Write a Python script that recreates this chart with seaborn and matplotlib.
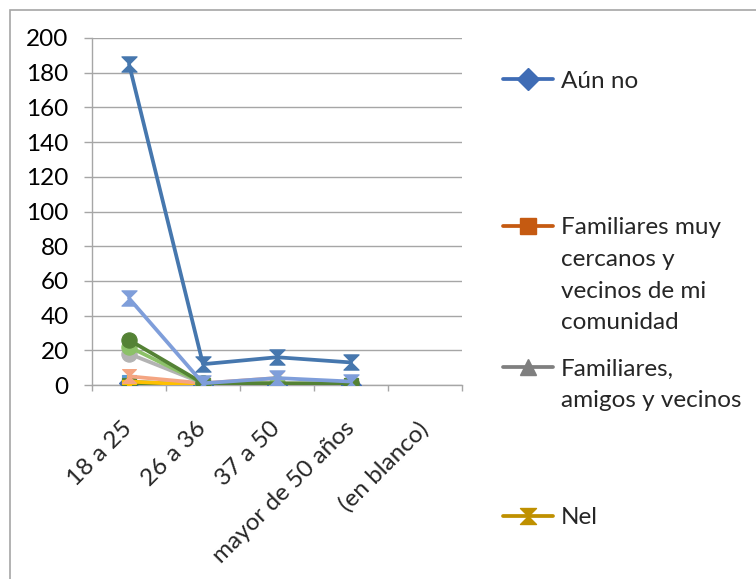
import numpy as np
import pandas as pd
import matplotlib
matplotlib.use("Agg")
import matplotlib.pyplot as plt
from matplotlib.path import Path
from matplotlib.patches import Rectangle
from matplotlib.lines import Line2D
import seaborn as sns

# Age groups on the x axis
categories = ["18 a 25", "26 a 36", "37 a 50", "mayor de 50 años", "(en blanco)"]

# Series shown in the legend
aun_no = [1, 0, 0, 0, np.nan]
familiares_muy_cercanos = [0, 0, 0, 0, np.nan]
familiares_amigos = [0, 0, 0, 0, np.nan]
nel = [0, 0, 0, 0, np.nan]

# Further series of the pivot table
serie_5 = [185, 12, 16, 13, np.nan]
serie_6 = [26, 1, np.nan, 1, np.nan]
serie_7 = [2, 0, 0, 0, np.nan]
serie_8 = [0, 0, 0, 0, np.nan]
serie_9 = [18, 1, 0, np.nan, np.nan]
serie_10 = [5, 1, 4, np.nan, np.nan]
serie_11 = [50, 1, 4, 2, np.nan]
serie_12 = [22, 1, 1, np.nan, np.nan]
serie_13 = [2, 0, 0, np.nan, np.nan]

legend_labels = [["Aún no"],
                 ["Familiares muy", "cercanos y", "vecinos de mi", "comunidad"],
                 ["Familiares,", "amigos y vecinos"],
                 ["Nel"]]

# hourglass-like marker used for the "star" series
hourglass = Path([(-1, 1), (1, 1), (-1, -1), (1, -1), (-1, 1)],
                 [Path.MOVETO, Path.LINETO, Path.LINETO, Path.LINETO, Path.CLOSEPOLY])

series = [
    (aun_no, "#3F6CB5", "D", 10),
    (familiares_muy_cercanos, "#C55A11", "s", 10),
    (familiares_amigos, "#7F7F7F", "^", 10),
    (nel, "#BF9000", hourglass, 10),
    (serie_7, "#5B9BD5", "s", 10),
    (serie_8, "#548235", "s", 10),
    (serie_13, "#FFC000", "P", 10),
    (serie_10, "#F4A582", hourglass, 10),
    (serie_9, "#B3B3B3", "o", 11),
    (serie_12, "#8CC168", "o", 11),
    (serie_6, "#548235", "o", 11),
    (serie_11, "#7F9EDA", hourglass, 11),
    (serie_5, "#4677AE", hourglass, 11),
]

sns.set_theme(style="white")
plt.rcParams["font.family"] = ["Lato", "DejaVu Sans"]
FS = 17.5

W, H = 756, 579
fig = plt.figure(figsize=(W / 100, H / 100), dpi=100)
ax = fig.add_axes([92 / W, 1 - 385 / H, (462 - 92) / W, (385 - 38) / H])

x = np.arange(len(categories))
for vals, color, marker, ms in series:
    df = pd.DataFrame({"x": x, "y": vals})
    sns.lineplot(data=df, x="x", y="y", ax=ax, color=color, lw=2.7,
                 marker=marker, markersize=ms, markeredgewidth=0.8,
                 markeredgecolor=color, legend=False, zorder=3)

ax.set_xlim(-0.5, len(categories) - 0.5)
ax.set_ylim(0, 200)
ax.set_yticks(range(0, 201, 20))
ax.set_xticks(x)
ax.set_xticks(np.arange(-0.5, len(categories), 1.0), minor=True)
ax.set_xticklabels(categories, rotation=45, ha="right", va="center",
                   rotation_mode="anchor", fontsize=FS)
ax.set_xlabel("")
ax.set_ylabel("")
ax.tick_params(axis="y", labelsize=FS, length=5.8, width=1, color="#A6A6A6",
               pad=11, left=True, labelcolor="black")
ax.tick_params(axis="x", which="major", length=0, pad=29)
ax.tick_params(axis="x", which="minor", length=4.5, width=1, color="#A6A6A6",
               bottom=True)
ax.grid(axis="y", color="#A6A6A6", lw=1)
ax.set_axisbelow(True)
for s in ["top", "right"]:
    ax.spines[s].set_visible(False)
for s in ["left", "bottom"]:
    ax.spines[s].set_color("#A6A6A6")
    ax.spines[s].set_linewidth(1)

# Legend entries placed in evenly spaced slots on the right
first_line_y = [79, 226, 367, 516]
line_step = 31.5
for (vals, color, marker, ms), lines, yy in zip(series[:4], legend_labels, first_line_y):
    yf = 1 - yy / H
    fig.add_artist(Line2D([503 / W, 553 / W], [yf, yf], transform=fig.transFigure,
                          color=color, lw=2.7))
    fig.add_artist(Line2D([528 / W], [yf], transform=fig.transFigure,
                          color=color, marker=marker, markersize=11.5,
                          markeredgecolor=color, lw=0))
    for i, txt in enumerate(lines):
        fig.text(561 / W, 1 - (yy + i * line_step) / H, txt, ha="left",
                 va="center_baseline", fontsize=FS)

# chart area border
fig.add_artist(Rectangle((9.5 / W, -0.2), 1.2, 1.2 - 9.5 / H, transform=fig.transFigure,
                         fill=False, edgecolor="#A6A6A6", lw=1.2))

fig.savefig("out.png", dpi=100)
